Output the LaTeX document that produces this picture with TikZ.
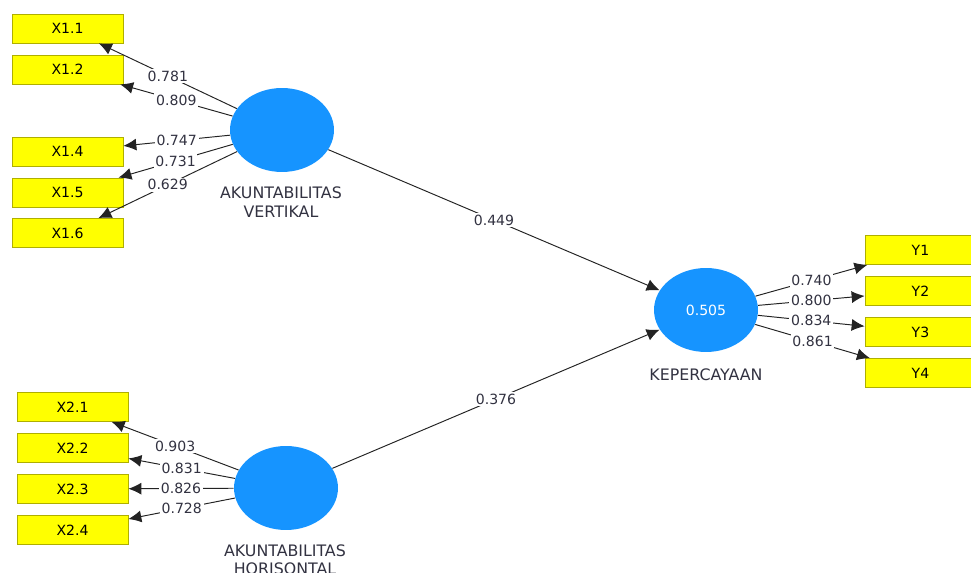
\documentclass[tikz,border=0pt]{standalone}
\usepackage{fontspec}
\setmainfont{DejaVu Sans}
\usetikzlibrary{arrows.meta,shapes.geometric}

\definecolor{latente}{RGB}{22,148,255}
\definecolor{indicador}{RGB}{255,255,0}
\definecolor{bordeind}{RGB}{175,175,0}
\definecolor{linea}{RGB}{35,35,35}
\definecolor{texto}{RGB}{50,50,65}

\begin{document}
\begin{tikzpicture}[x=0.02cm,y=-0.02cm,
        ind/.style={draw=bordeind,fill=indicador,minimum width=2.22cm,minimum height=0.58cm,inner sep=0pt,font=\fontsize{8}{9}\selectfont},
        lat/.style={ellipse,fill=latente,minimum width=2.08cm,minimum height=1.68cm,inner sep=0pt,text=white,font=\fontsize{8}{9}\selectfont},
        latlabel/.style={align=center,text=texto,font=\fontsize{9}{10.5}\selectfont},
        carga/.style={midway,fill=white,inner sep=1pt,text=texto,font=\fontsize{8}{9}\selectfont},
        flecha/.style={draw=linea,line width=0.55pt,-{Latex[length=2.6mm,width=2.4mm]}}]
        \useasboundingbox (0,0) rectangle (971,573);

        % Variables latentes
        \node[lat] (av) at (282,130) {};
        \node[lat] (ah) at (286,488) {};
        \node[lat] (kp) at (706,310) {0.505};
        \node[latlabel] (avlab) at (281,202) {AKUNTABILITAS\\VERTIKAL};
        \node[latlabel] (ahlab) at (285,560) {AKUNTABILITAS\\HORISONTAL};
        \node[latlabel] (kplab) at (706,375) {KEPERCAYAAN};

        % Indicadores
        \node[ind] (x11) at (67.5,28.5) {X1.1};
        \node[ind] (x12) at (67.5,69.5) {X1.2};
        \node[ind] (x14) at (67.5,151.5) {X1.4};
        \node[ind] (x15) at (67.5,192.5) {X1.5};
        \node[ind] (x16) at (67.5,233) {X1.6};
        \node[ind] (x21) at (72.5,407) {X2.1};
        \node[ind] (x22) at (72.5,448) {X2.2};
        \node[ind] (x23) at (72.5,489) {X2.3};
        \node[ind] (x24) at (72.5,530) {X2.4};
        \node[ind] (y1) at (920.5,250) {Y1};
        \node[ind] (y2) at (920.5,291) {Y2};
        \node[ind] (y3) at (920.5,332) {Y3};
        \node[ind] (y4) at (920.5,373) {Y4};

        % Cargas externas
        \draw[flecha] (av) -- node[carga] {0.781} (x11);
        \draw[flecha] (av) -- node[carga] {0.809} (x12);
        \draw[flecha] (av) -- node[carga] {0.747} (x14);
        \draw[flecha] (av) -- node[carga] {0.731} (x15);
        \draw[flecha] (av) -- node[carga] {0.629} (x16);
        \draw[flecha] (ah) -- node[carga] {0.903} (x21);
        \draw[flecha] (ah) -- node[carga] {0.831} (x22);
        \draw[flecha] (ah) -- node[carga] {0.826} (x23);
        \draw[flecha] (ah) -- node[carga] {0.728} (x24);
        \draw[flecha] (kp) -- node[carga] {0.740} (y1);
        \draw[flecha] (kp) -- node[carga] {0.800} (y2);
        \draw[flecha] (kp) -- node[carga] {0.834} (y3);
        \draw[flecha] (kp) -- node[carga] {0.861} (y4);

        % Coeficientes de ruta
        \draw[flecha] (av) -- node[carga] {0.449} (kp);
        \draw[flecha] (ah) -- node[carga] {0.376} (kp);
    \end{tikzpicture}
\end{document}
